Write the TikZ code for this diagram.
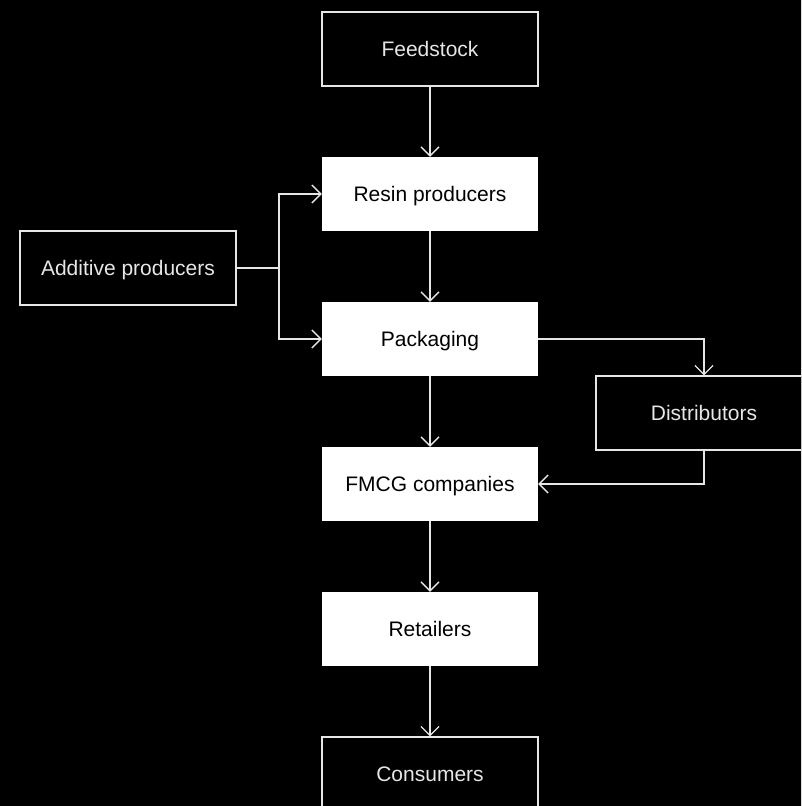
\documentclass[tikz,border=0pt]{standalone}
\usepackage{fontspec}
\setmainfont{Liberation Sans}
\usetikzlibrary{arrows.meta}
\definecolor{ln}{HTML}{E6E6E6}
\tikzset{
  x=1pt, y=-1pt,
  base/.style={minimum width=216pt, minimum height=74pt, inner sep=0pt, text height=15pt, text depth=0pt, font=\fontsize{21}{25}\selectfont},
  darkbox/.style={base, draw=ln, line width=1.3pt, fill=black, text=ln},
  lightbox/.style={base, fill=white, text=black},
  conn/.style={draw=ln, line width=1.3pt, -{Straight Barb[length=9pt,width=18pt,line width=1.3pt]}},
  plain/.style={draw=ln, line width=1.3pt}
}
\begin{document}
\begin{tikzpicture}
\useasboundingbox (0,0) rectangle (801,806);
\clip (0,0) rectangle (801,806);
\fill[black] (-10,-10) rectangle (811,816);
\node[darkbox] (feed) at (430,49) {Feedstock};
\node[lightbox] (resin) at (430,194) {Resin producers};
\node[darkbox] (add) at (128,268) {Additive producers};
\node[lightbox] (pack) at (430,339) {Packaging};
\node[darkbox] (dist) at (704,413) {Distributors};
\node[lightbox] (fmcg) at (430,484) {FMCG companies};
\node[lightbox] (ret) at (430,629) {Retailers};
\node[darkbox] (cons) at (430,774) {Consumers};
\coordinate (split) at (279,268);
\draw[conn] (feed) -- (resin);
\draw[plain] (add.east) -- (split);
\draw[conn] (split) |- (resin.west);
\draw[conn] (split) |- (pack.west);
\draw[conn] (resin) -- (pack);
\draw[conn] (pack.east) -| (dist.north);
\draw[conn] (dist.south) |- (fmcg.east);
\draw[conn] (pack) -- (fmcg);
\draw[conn] (fmcg) -- (ret);
\draw[conn] (ret) -- (cons);
\end{tikzpicture}
\end{document}
